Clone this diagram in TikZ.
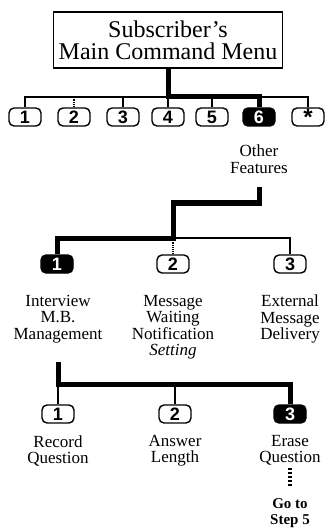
\documentclass[tikz,border=0pt]{standalone}
\usepackage{fontspec}
\setmainfont{Liberation Serif}
\newfontfamily\keyfont{Liberation Sans}
\usetikzlibrary{positioning}
\tikzset{
  menubox/.style={draw, line width=1.4pt, minimum width=229pt, minimum height=56pt,
              align=center, inner sep=0pt, font=\fontsize{24}{22}\selectfont},
  key/.style={draw, line width=1.4pt, rounded corners=5pt, minimum width=32pt,
              minimum height=18pt, inner sep=0pt, font=\keyfont\bfseries\fontsize{18}{18}\selectfont},
  keyon/.style={key, fill=black, text=white},
  lbl/.style={align=center, anchor=north, inner sep=0pt, font=\fontsize{17}{16.5}\selectfont},
  gotolbl/.style={lbl, font=\bfseries\fontsize{15}{16}\selectfont},
  bus/.style={line width=1.2pt},
  faint/.style={bus, densely dotted},
  sel/.style={line width=5pt, line join=miter},
  jump/.style={line width=4pt, dash pattern=on 2.5pt off 1.5pt},
}

\begin{document}
\begin{tikzpicture}[x=1pt, y=-1pt]
  \useasboundingbox (0,0) rectangle (327,529);
  % main menu and its keys
  \node[menubox] (menu) at (168,40) {Subscriber's\\Main Command Menu};
  \coordinate (j0) at (168,97);
  \foreach \i/\x in {1/25,2/74,3/123,4/168,5/212}{
    \node[key] (k\i) at (\x,117) {\i};}
  \node[keyon] (k6) at (259,117) {6};
  \node[key] (kstar) at (308,117) {\raisebox{-.42em}{\fontsize{24}{24}\selectfont *}};
  \draw[bus] (k1.north) -- (k1.north |- j0) -- (kstar.north |- j0) -- (kstar.north);
  \foreach \i in {3,4,5}{
    \draw[bus] (k\i.north) -- (k\i.north |- j0);}
  \draw[faint] (k2.north) -- (k2.north |- j0);
  \draw[sel] (menu.south) -- (j0) -| (k6.north);
  \node[lbl] (other) at (259,145) {Other\\Features};
  % other features
  \coordinate (s6) at (259,187);
  \coordinate (j1) at (173,238);
  \node[keyon] (m1) at (57,264) {1};
  \node[key] (m2) at (173,264) {2};
  \node[key] (m3) at (290,264) {3};
  \draw[sel] (s6) -- ++(0,16) -| (j1) -- (m1.north |- j1) -- (m1.north);
  \draw[bus] (j1) -| (m3.north);
  \draw[faint] (j1) -- (m2.north);
  \node[lbl] (interview) at (58,295) {Interview\\M.B.\\Management};
  \node[lbl] (waiting) at (173,295) {Message\\Waiting\\Notification\\\textit{Setting}};
  \node[lbl] (external) at (290,295) {External\\Message\\Delivery};
  % interview M.B. management
  \coordinate (s1) at (58,362);
  \coordinate (j2) at (58,384);
  \node[key] (r1) at (58,414) {1};
  \node[key] (r2) at (175,414) {2};
  \node[keyon] (r3) at (290,414) {3};
  \draw[sel] (s1) -- (j2) -| (r3.north);
  \draw[bus] (j2) -- (r1.north);
  \draw[bus] (r2.north |- j2) -- (r2.north);
  \node[lbl] (record) at (58,435) {Record\\Question};
  \node[lbl] (answer) at (175,435) {Answer\\Length};
  \node[lbl] (erase) at (290,435) {Erase\\Question};
  \node[gotolbl] (goto) at (290,498) {Go to\\Step 5};
  \draw[jump, shorten <=2pt, shorten >=11pt] (erase.south) -- (goto.north);
\end{tikzpicture}
\end{document}
